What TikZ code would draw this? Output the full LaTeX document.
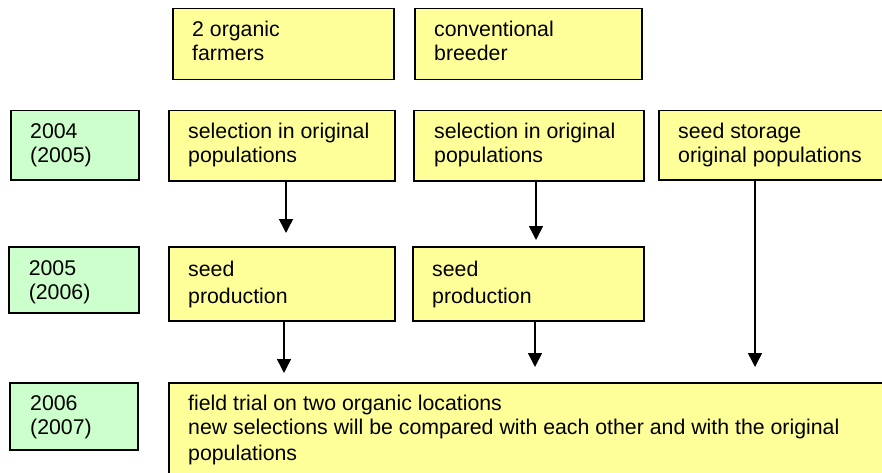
\documentclass[tikz,border=0pt]{standalone}
\usepackage{fontspec}
\setmainfont{Liberation Sans}
\usetikzlibrary{arrows.meta}
\definecolor{ylw}{RGB}{255,255,153}
\definecolor{grn}{RGB}{204,255,204}
\tikzset{
  boxbase/.style={draw=black, line width=1.5pt, anchor=north west, inner sep=0pt},
  ybox/.style={boxbase, fill=ylw},
  gbox/.style={boxbase, fill=grn},
  txt/.style={anchor=base west, inner sep=0pt, font=\fontsize{21.3}{24}\selectfont},
  arr/.style={line width=1.5pt, -{Triangle[width=14pt,length=14pt]}}
}
\begin{document}
\begin{tikzpicture}[x=1pt,y=-1pt]
\useasboundingbox (0,0) rectangle (882,473);
\clip (0,0) rectangle (882,473);
% top row
\node[ybox, minimum width=221pt, minimum height=71pt] (farm) at (172,8) {};
\node[ybox, minimum width=227pt, minimum height=71pt] (breed) at (414,8) {};
% row 1
\node[gbox, minimum width=128pt, minimum height=69pt] (g1) at (10,110) {};
\node[ybox, minimum width=226pt, minimum height=70pt] (sel1) at (168,110) {};
\node[ybox, minimum width=230pt, minimum height=70pt] (sel2) at (413,110) {};
\node[ybox, minimum width=260pt, minimum height=69pt] (stor) at (658,110) {};
% row 2
\node[gbox, minimum width=130pt, minimum height=66pt] (g2) at (8,246) {};
\node[ybox, minimum width=226pt, minimum height=74pt] (sp1) at (168,246) {};
\node[ybox, minimum width=231pt, minimum height=74pt] (sp2) at (412,246) {};
% row 3
\node[gbox, minimum width=128pt, minimum height=67pt] (g3) at (9,382) {};
\node[ybox, minimum width=760pt, minimum height=120pt] (big) at (168,382) {};
% texts
\node[txt] (tfa) at (192,36.7) {2 organic};
\node[txt] (tfb) at (192,61) {farmers};
\node[txt] (tba) at (434,36.7) {conventional};
\node[txt] (tbb) at (434,61) {breeder};
\node[txt] (t1a) at (30,138.5) {2004};
\node[txt] (t1b) at (30,162.5) {(2005)};
\node[txt] (s1a) at (188,138.5) {selection in original};
\node[txt] (s1b) at (188,162.5) {populations};
\node[txt] (s2a) at (434,138.5) {selection in original};
\node[txt] (s2b) at (434,162.5) {populations};
\node[txt] (sta) at (678,138.5) {seed storage};
\node[txt] (stb) at (678,162.5) {original populations};
\node[txt] (t2a) at (28.6,275.5) {2005};
\node[txt] (t2b) at (28.6,299.5) {(2006)};
\node[txt] (p1a) at (188,276) {seed};
\node[txt] (p1b) at (188,303.3) {production};
\node[txt] (p2a) at (432,276) {seed};
\node[txt] (p2b) at (432,303.3) {production};
\node[txt] (t3a) at (30,410.7) {2006};
\node[txt] (t3b) at (30,434.5) {(2007)};
\node[txt] (ba) at (188,410.7) {field trial on two organic locations};
\node[txt] (bb) at (188,434.5) {new selections will be compared with each other and with the original};
\node[txt] (bc) at (188,460.5) {populations};
% connectors
\coordinate (xa) at (286,0);
\coordinate (xb) at (536,0);
\coordinate (xc) at (284,0);
\coordinate (xd) at (535,0);
\coordinate (xe) at (755,0);
\draw[arr, shorten >=13pt] (sel1.south -| xa) -- (sp1.north -| xa);
\draw[arr, shorten >=6pt] (sel2.south -| xb) -- (sp2.north -| xb);
\draw[arr, shorten >=9pt] (sp1.south -| xc) -- (big.north -| xc);
\draw[arr, shorten >=15pt] (sp2.south -| xd) -- (big.north -| xd);
\draw[arr, shorten >=15pt] (stor.south -| xe) -- (big.north -| xe);
\end{tikzpicture}
\end{document}
